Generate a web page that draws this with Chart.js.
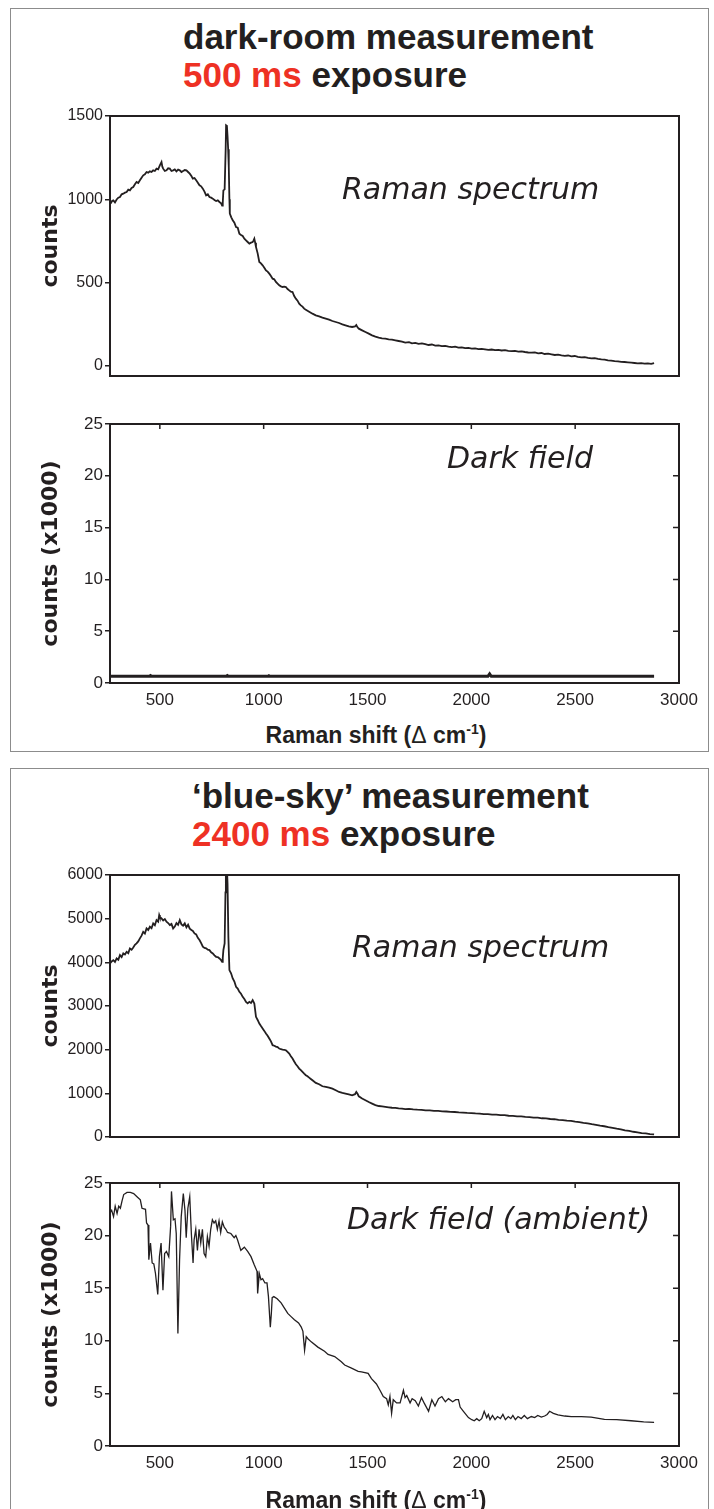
<!DOCTYPE html>
<html>
<head>
<meta charset="utf-8">
<script src="https://cdn.jsdelivr.net/npm/chart.js@4.4.1/dist/chart.umd.min.js"></script>
<style>
  body { margin: 0; background: #fff; width: 714px; height: 1509px; overflow: hidden; position: relative;
         font-family: 'Liberation Sans', Arial, sans-serif; color: #231f20; }
  .painel { position: absolute; left: 10px; width: 699px; border: 1.5px solid #8c8c8c; box-sizing: border-box; }
  .titulo { position: absolute; font-weight: bold; font-size: 35px; line-height: 35px; white-space: nowrap; }
  .vermelho { color: #ee3124; }
  .rotulo { position: absolute; font-family: 'DejaVu Sans', sans-serif; font-style: italic; font-size: 30px;
            line-height: 30px; white-space: nowrap; }
  .eixo-x { position: absolute; left: 376px; transform: translateX(-50%); font-weight: bold; font-size: 23px;
            line-height: 23px; white-space: nowrap; }
  .eixo-x sup { font-size: 14px; line-height: 0; }
  canvas { position: absolute; left: 0; }
</style>
</head>
<body>

<div class="painel" style="top:8px; height:744px;"></div>
<div class="painel" style="top:768px; height:800px;"></div>

<div class="titulo" style="left:183px; top:19px;">dark-room measurement</div>
<div class="titulo" style="left:183px; top:57px;"><span class="vermelho">500 ms</span> exposure</div>
<div class="titulo" style="left:192px; top:778px;">‘blue-sky’ measurement</div>
<div class="titulo" style="left:192px; top:816px;"><span class="vermelho">2400 ms</span> exposure</div>

<canvas id="grafico-raman1" width="714" height="290" style="top:100px"></canvas>
<canvas id="grafico-escuro1" width="714" height="320" style="top:400px"></canvas>
<canvas id="grafico-raman2" width="714" height="290" style="top:860px"></canvas>
<canvas id="grafico-escuro2" width="714" height="349" style="top:1160px"></canvas>

<div class="rotulo" style="left:342px; top:174px;">Raman spectrum</div>
<div class="rotulo" style="left:447px; top:443px;">Dark field</div>
<div class="rotulo" style="left:352px; top:932px;">Raman spectrum</div>
<div class="rotulo" style="left:347px; top:1204px;">Dark field (ambient)</div>

<div class="eixo-x" style="top:724px;">Raman shift (<span style="font-weight:normal">Δ</span> cm<sup>-1</sup>)</div>
<div class="eixo-x" style="top:1489px;">Raman shift (<span style="font-weight:normal">Δ</span> cm<sup>-1</sup>)</div>

<script>
// Eixos / ticks
const ticksX = [500, 1000, 1500, 2000, 2500, 3000];
const ticksRaman1 = [0, 500, 1000, 1500];
const ticksRaman2 = [0, 1000, 2000, 3000, 4000, 5000, 6000];
const ticksEscuro = [0, 5, 10, 15, 20, 25];

// Painel 1 - espectro Raman (500 ms)
const shiftRaman1 = [263, 270, 276, 284, 292, 300, 308, 316, 324, 332, 340, 348, 356, 364, 372, 380, 388, 396, 404, 412,
  420, 428, 436, 444, 452, 460, 468, 476, 484, 492, 500, 508, 512, 516, 524, 532, 540, 548, 556, 564,
  572, 580, 588, 596, 604, 612, 620, 628, 636, 644, 652, 659, 667, 675, 683, 691, 699, 707, 715, 723,
  731, 739, 747, 755, 763, 771, 779, 787, 795, 800, 803, 806, 812, 817, 819, 823, 826, 829, 832, 835,
  837, 844, 851, 859, 867, 875, 883, 891, 899, 907, 915, 923, 931, 939, 947, 951, 955, 959, 963, 971,
  979, 987, 995, 1003, 1011, 1019, 1027, 1035, 1043, 1051, 1059, 1067, 1075, 1083, 1091, 1099, 1107, 1115, 1123, 1131,
  1139, 1147, 1155, 1163, 1171, 1179, 1187, 1195, 1203, 1219, 1235, 1251, 1267, 1283, 1299, 1315, 1331, 1347, 1363, 1379,
  1394, 1410, 1426, 1440, 1446, 1452, 1458, 1474, 1490, 1506, 1522, 1538, 1554, 1570, 1586, 1602, 1618, 1634, 1650, 1666,
  1682, 1700, 1714, 1730, 1746, 1762, 1778, 1794, 1810, 1826, 1842, 1858, 1874, 1890, 1906, 1922, 1938, 1954, 1970, 1986,
  2002, 2018, 2034, 2050, 2066, 2082, 2098, 2114, 2130, 2146, 2162, 2178, 2193, 2210, 2226, 2242, 2258, 2274, 2290, 2306,
  2322, 2338, 2353, 2370, 2386, 2402, 2418, 2434, 2450, 2466, 2482, 2498, 2513, 2530, 2546, 2562, 2578, 2594, 2610, 2626,
  2642, 2658, 2673, 2690, 2706, 2722, 2738, 2754, 2770, 2786, 2801, 2818, 2834, 2850, 2866, 2880];
const contagemRaman1 = [974, 990, 994, 982, 999, 1010, 1014, 1030, 1034, 1040, 1044, 1058, 1054, 1068, 1074, 1090, 1104, 1098, 1114, 1130,
  1144, 1150, 1164, 1160, 1168, 1164, 1174, 1170, 1184, 1180, 1204, 1224, 1196, 1184, 1170, 1174, 1186, 1184, 1170, 1174,
  1180, 1168, 1178, 1174, 1164, 1170, 1176, 1174, 1164, 1154, 1140, 1124, 1128, 1114, 1100, 1084, 1078, 1064, 1046, 1024,
  1030, 1014, 1010, 1004, 996, 990, 994, 984, 976, 962, 980, 1054, 1060, 1300, 1444, 1440, 1380, 1300, 1194, 1000,
  914, 892, 874, 860, 834, 830, 794, 786, 780, 764, 754, 744, 734, 740, 744, 752, 764, 740, 714, 676,
  624, 616, 604, 590, 574, 566, 554, 540, 524, 520, 504, 494, 484, 478, 474, 476, 474, 462, 454, 446,
  444, 420, 404, 392, 374, 364, 356, 344, 338, 326, 314, 304, 298, 290, 284, 278, 270, 264, 258, 250,
  244, 238, 234, 238, 246, 232, 224, 214, 204, 194, 184, 176, 170, 166, 164, 160, 158, 154, 150, 146,
  140, 143, 136, 139, 133, 136, 131, 126, 129, 122, 124, 119, 121, 116, 113, 116, 110, 112, 107, 109,
  104, 106, 101, 103, 100, 97, 99, 95, 97, 93, 95, 91, 89, 91, 86, 88, 84, 81, 80, 82,
  76, 78, 72, 74, 70, 66, 68, 64, 61, 63, 58, 60, 55, 52, 53, 49, 46, 47, 43, 40,
  38, 34, 32, 29, 28, 25, 24, 22, 20, 18, 16, 17, 14, 16, 13, 17];

// Painel 1 - campo escuro (x1000)
const shiftEscuro1 = [260, 450, 455, 460, 820, 825, 830, 1020, 1025, 1030, 2080, 2088, 2096, 2880];
const contagemEscuro1 = [0.65, 0.65, 0.72, 0.65, 0.65, 0.72, 0.65, 0.65, 0.7, 0.65, 0.65, 0.88, 0.65, 0.65];

// Painel 2 - espectro Raman (2400 ms)
const shiftRaman2 = [260, 268, 276, 284, 292, 300, 308, 316, 324, 332, 340, 348, 356, 364, 372, 380, 388, 396, 404, 412,
  420, 428, 436, 444, 452, 460, 468, 476, 484, 492, 497, 500, 508, 516, 524, 532, 540, 548, 556, 564,
  572, 580, 588, 596, 604, 612, 620, 628, 636, 644, 652, 659, 667, 675, 683, 691, 699, 707, 715, 723,
  731, 739, 747, 755, 763, 771, 779, 787, 795, 800, 803, 806, 812, 816, 818, 822, 826, 830, 835, 843,
  851, 859, 867, 875, 883, 891, 899, 907, 915, 923, 931, 939, 947, 955, 963, 971, 979, 987, 995, 1003,
  1011, 1019, 1027, 1035, 1043, 1051, 1059, 1067, 1075, 1083, 1091, 1099, 1107, 1115, 1123, 1131, 1139, 1147, 1155, 1163,
  1171, 1179, 1187, 1195, 1203, 1211, 1219, 1227, 1235, 1251, 1267, 1283, 1299, 1315, 1331, 1347, 1363, 1379, 1394, 1410,
  1426, 1440, 1446, 1452, 1458, 1474, 1490, 1506, 1522, 1538, 1554, 1570, 1586, 1602, 1618, 1634, 1650, 1666, 1682, 1700,
  1720, 1740, 1760, 1780, 1800, 1820, 1840, 1860, 1880, 1900, 1920, 1940, 1960, 1980, 2000, 2020, 2040, 2060, 2080, 2100,
  2120, 2140, 2160, 2180, 2200, 2220, 2240, 2260, 2280, 2300, 2320, 2340, 2360, 2380, 2400, 2420, 2440, 2460, 2480, 2500,
  2520, 2540, 2560, 2580, 2600, 2620, 2640, 2660, 2680, 2700, 2720, 2740, 2760, 2780, 2800, 2820, 2840, 2860, 2880];
const contagemRaman2 = [3974, 4020, 4051, 4010, 4089, 4060, 4165, 4120, 4204, 4180, 4242, 4210, 4318, 4290, 4341, 4400, 4433, 4480, 4548, 4610,
  4700, 4660, 4777, 4740, 4815, 4780, 4892, 4850, 4968, 4930, 5083, 5040, 5006, 4960, 4990, 4930, 4900, 4853, 4880, 4777,
  4820, 4900, 4860, 4968, 4870, 4840, 4892, 4800, 4860, 4770, 4739, 4720, 4662, 4640, 4560, 4510, 4440, 4357, 4330, 4320,
  4290, 4280, 4230, 4204, 4160, 4127, 4120, 4089, 4050, 4013, 4100, 4280, 4433, 5600, 6300, 6300, 5800, 4586, 3822, 3750,
  3631, 3560, 3440, 3400, 3325, 3280, 3210, 3160, 3095, 3060, 3095, 3070, 3134, 3057, 2752, 2680, 2599, 2540, 2484, 2430,
  2369, 2320, 2255, 2190, 2102, 2090, 2070, 2060, 2025, 2010, 2000, 1995, 1987, 1950, 1911, 1850, 1796, 1730, 1666, 1620,
  1567, 1530, 1490, 1450, 1414, 1390, 1360, 1330, 1299, 1238, 1208, 1162, 1146, 1130, 1108, 1070, 1032, 1010, 994, 975,
  955, 980, 1032, 990, 932, 880, 841, 800, 764, 730, 710, 700, 690, 680, 670, 665, 655, 650, 640, 645,
  634, 626, 622, 612, 608, 599, 596, 588, 584, 575, 573, 564, 560, 552, 548, 539, 536, 526, 524, 513,
  511, 500, 499, 487, 486, 474, 472, 460, 457, 445, 442, 429, 426, 412, 407, 394, 388, 374, 367, 350,
  340, 324, 311, 294, 280, 260, 246, 226, 210, 190, 174, 154, 140, 120, 108, 90, 82, 68, 62];

// Painel 2 - campo escuro ambiente (x1000)
const shiftEscuro2 = [258, 268, 277, 285, 294, 302, 310, 318, 326, 342, 358, 374, 390, 406, 414, 431, 436, 443, 447, 455,
  463, 471, 479, 490, 498, 506, 515, 523, 532, 543, 552, 556, 565, 573, 579, 587, 595, 603, 613, 621,
  627, 635, 644, 652, 660, 665, 673, 681, 689, 697, 705, 713, 721, 729, 737, 745, 753, 761, 769, 777,
  785, 793, 801, 810, 818, 826, 842, 858, 866, 874, 890, 907, 923, 939, 955, 968, 971, 979, 987, 995,
  1006, 1016, 1023, 1032, 1037, 1041, 1049, 1065, 1084, 1100, 1116, 1132, 1148, 1168, 1181, 1189, 1197, 1205, 1213, 1229,
  1261, 1293, 1310, 1342, 1374, 1390, 1423, 1455, 1471, 1503, 1519, 1543, 1560, 1576, 1592, 1600, 1608, 1616, 1624, 1640,
  1657, 1673, 1681, 1689, 1705, 1715, 1730, 1745, 1760, 1775, 1794, 1810, 1825, 1842, 1858, 1875, 1890, 1910, 1925, 1938,
  1946, 1962, 1986, 2002, 2014, 2026, 2038, 2050, 2062, 2074, 2082, 2090, 2102, 2114, 2126, 2140, 2152, 2164, 2178, 2190,
  2200, 2212, 2225, 2240, 2255, 2270, 2289, 2305, 2320, 2337, 2353, 2365, 2377, 2395, 2417, 2450, 2481, 2530, 2577, 2641,
  2700, 2769, 2830, 2880];
const contagemEscuro2 = [22.1, 22.4, 21.8, 22.8, 22.1, 22.8, 22.6, 23.3, 23.9, 24.1, 24.1, 24.0, 23.7, 23.4, 22.6, 22.5, 21.2, 21.0, 17.7, 19.3,
  17.4, 17.3, 16.4, 14.4, 18.0, 19.3, 14.8, 18.3, 18.5, 18.0, 20.9, 24.2, 21.5, 21.6, 20.2, 10.7, 17.7, 21.8, 24.0, 22.4,
  19.8, 22.6, 23.7, 20.1, 17.4, 19.6, 20.6, 18.6, 20.6, 19.3, 20.6, 18.3, 18.0, 19.9, 19.0, 20.6, 21.5, 21.2, 21.4, 20.6,
  21.4, 20.3, 21.3, 20.8, 20.6, 20.3, 20.2, 19.8, 20.0, 19.6, 18.6, 18.9, 18.5, 18.0, 17.2, 16.6, 14.5, 16.4, 15.8, 15.9,
  15.5, 15.5, 14.2, 11.3, 12.6, 14.1, 14.2, 14.0, 13.6, 13.1, 12.6, 12.3, 12.0, 11.7, 11.3, 10.9, 9.1, 10.4, 10.2, 9.9,
  9.4, 9.0, 8.7, 8.5, 8.0, 7.7, 7.4, 7.1, 7.05, 6.9, 6.4, 5.9, 5.3, 4.7, 4.5, 3.9, 4.7, 3.1, 4.4, 4.1,
  4.1, 5.3, 4.6, 4.8, 4.1, 4.5, 4.3, 3.8, 4.6, 4.0, 3.3, 4.4, 3.8, 4.5, 4.7, 4.2, 4.5, 4.2, 4.4, 4.4,
  3.7, 3.3, 2.7, 2.5, 2.4, 2.6, 2.4, 2.6, 3.3, 2.7, 3.0, 2.5, 2.9, 2.5, 2.8, 2.6, 3.0, 2.5, 2.8, 2.6,
  2.9, 2.5, 2.8, 2.6, 2.9, 2.6, 2.8, 2.7, 2.9, 2.75, 2.85, 3.0, 3.3, 3.1, 2.95, 2.85, 2.8, 2.8, 2.75, 2.54,
  2.5, 2.4, 2.3, 2.25];

const tinta = '#231f20';

// Moldura completa + ticks espelhados (lado de cima e direita)
const moldura = {
    id: 'moldura',
    afterDraw(chart, args, opts) {
        const { ctx, chartArea: a, scales } = chart;
        ctx.save();
        ctx.strokeStyle = tinta;
        ctx.lineWidth = 2;
        ctx.strokeRect(a.left, a.top, a.right - a.left, a.bottom - a.top);
        if (opts.espelhar) {
            ctx.lineWidth = 1.5;
            ctx.beginPath();
            scales.x.ticks.forEach(t => {
                const px = scales.x.getPixelForValue(t.value);
                ctx.moveTo(px, a.top);
                ctx.lineTo(px, a.top + 5);
            });
            scales.y.ticks.forEach(t => {
                const py = scales.y.getPixelForValue(t.value);
                ctx.moveTo(a.right, py);
                ctx.lineTo(a.right - 6, py);
            });
            ctx.stroke();
        }
        ctx.restore();
    }
};

function pontos(xs, ys) {
    return xs.map((x, i) => ({ x: x, y: ys[i] }));
}

function gerarGrafico(id, cfg) {
    const canvas = document.getElementById(id);
    new Chart(canvas, {
        type: 'line',
        data: {
            datasets: [{
                data: pontos(cfg.xs, cfg.ys),
                borderColor: tinta,
                borderWidth: cfg.espessura,
                pointRadius: 0,
                tension: 0,
                fill: false
            }]
        },
        plugins: [moldura],
        options: {
            responsive: false,
            animation: false,
            events: [],
            layout: { padding: { left: 0, right: 35, top: cfg.topo, bottom: 0 } },
            plugins: {
                legend: { display: false },
                tooltip: { enabled: false },
                moldura: { espelhar: cfg.espelhar }
            },
            scales: {
                x: {
                    type: 'linear',
                    min: 260,
                    max: 3000,
                    afterBuildTicks: s => { s.ticks = ticksX.map(v => ({ value: v })); },
                    afterFit: s => { s.height = cfg.alturaX; },
                    grid: { display: false, drawTicks: false },
                    border: { display: true, color: tinta, width: 2 },
                    ticks: {
                        display: cfg.rotulosX,
                        autoSkip: false,
                        maxRotation: 0,
                        padding: 7,
                        color: tinta,
                        font: { family: 'Liberation Sans', size: 17 },
                        callback: v => String(v)
                    }
                },
                y: {
                    min: cfg.yMin,
                    max: cfg.yMax,
                    afterBuildTicks: s => { s.ticks = cfg.ticksY.map(v => ({ value: v })); },
                    afterFit: s => { s.width = 110; },
                    grid: { drawOnChartArea: false, drawTicks: true, tickLength: 5, color: tinta, lineWidth: 1.5 },
                    border: { display: true, color: tinta, width: 2 },
                    ticks: {
                        autoSkip: false,
                        padding: 2,
                        color: tinta,
                        font: { family: 'Liberation Sans', size: cfg.fonteY },
                        callback: v => String(v)
                    },
                    title: {
                        display: true,
                        text: cfg.tituloY,
                        color: tinta,
                        font: { family: 'DejaVu Sans', weight: 'bold', size: 22 },
                        padding: { top: 38, bottom: 0 }
                    }
                }
            }
        }
    });
}

window.addEventListener('load', () => {
    gerarGrafico('grafico-raman1', {
        xs: shiftRaman1, ys: contagemRaman1, espessura: 1.8, topo: 16, alturaX: 14, rotulosX: false,
        yMin: -60, yMax: 1500, ticksY: ticksRaman1, fonteY: 16, tituloY: 'counts', espelhar: false
    });
    gerarGrafico('grafico-escuro1', {
        xs: shiftEscuro1, ys: contagemEscuro1, espessura: 3, topo: 24, alturaX: 37, rotulosX: true,
        yMin: 0, yMax: 25, ticksY: ticksEscuro, fonteY: 17, tituloY: 'counts (x1000)', espelhar: true
    });
    gerarGrafico('grafico-raman2', {
        xs: shiftRaman2, ys: contagemRaman2, espessura: 1.8, topo: 15, alturaX: 13, rotulosX: false,
        yMin: 0, yMax: 6000, ticksY: ticksRaman2, fonteY: 16, tituloY: 'counts', espelhar: false
    });
    gerarGrafico('grafico-escuro2', {
        xs: shiftEscuro2, ys: contagemEscuro2, espessura: 1.3, topo: 23, alturaX: 63, rotulosX: true,
        yMin: 0, yMax: 25, ticksY: ticksEscuro, fonteY: 17, tituloY: 'counts (x1000)', espelhar: true
    });
});
</script>
</body>
</html>
